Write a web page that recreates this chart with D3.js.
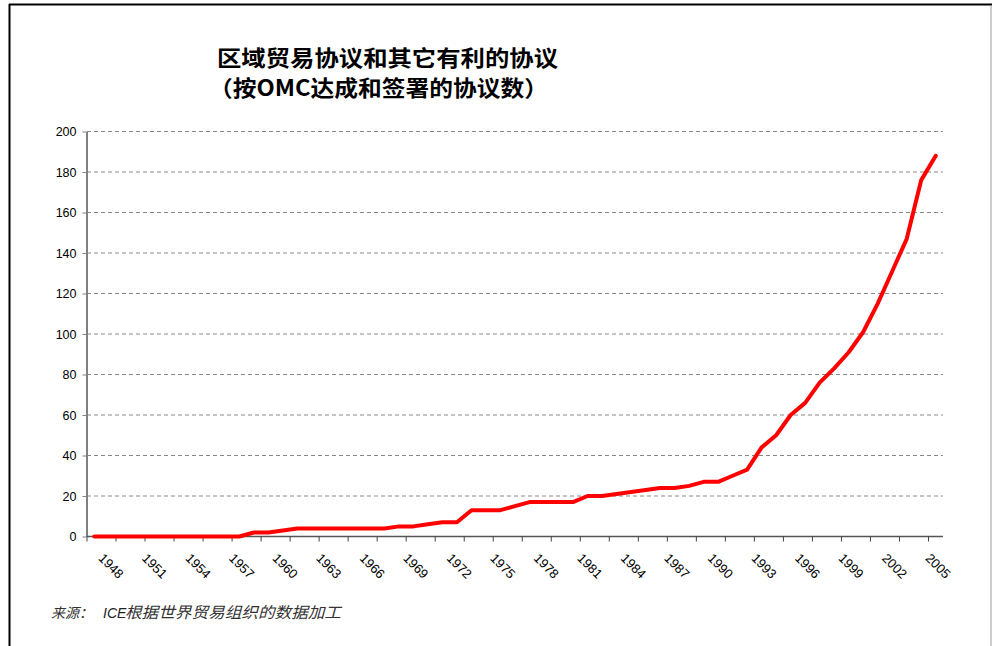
<!DOCTYPE html>
<meta charset="utf-8">
<script src="https://d3js.org/d3.v7.min.js"></script>
<style>
  body { margin: 0; background: #fff; }
  svg { display: block; }
  .ylab { font-family: "Liberation Sans", Arial, sans-serif; font-size: 12.5px; fill: #000; }
  .xlab { font-family: "Liberation Sans", Arial, sans-serif; font-size: 13px; fill: #000; }
  .title { font-family: "Noto Sans CJK SC", sans-serif; font-size: 22px; font-weight: 700; fill: #000; }
  .src { font-family: "Noto Sans CJK SC", sans-serif; font-size: 14px; font-style: italic; fill: #333; }
  .srcl { font-family: "Liberation Sans", Arial, sans-serif; font-size: 14px; font-style: italic; fill: #222; }
</style>
<body></body>
<script>

// years on the category axis
var years = [1947, 1948, 1949, 1950, 1951, 1952, 1953, 1954, 1955, 1956,
             1957, 1958, 1959, 1960, 1961, 1962, 1963, 1964, 1965, 1966,
             1967, 1968, 1969, 1970, 1971, 1972, 1973, 1974, 1975, 1976,
             1977, 1978, 1979, 1980, 1981, 1982, 1983, 1984, 1985, 1986,
             1987, 1988, 1989, 1990, 1991, 1992, 1993, 1994, 1995, 1996,
             1997, 1998, 1999, 2000, 2001, 2002, 2003, 2004, 2005];

// number of agreements
var agreements = [0, 0, 0, 0, 0, 0, 0, 0, 0, 0,
                  0, 2, 2, 3, 4, 4, 4, 4, 4, 4,
                  4, 5, 5, 6, 7, 7, 13, 13, 13, 15,
                  17, 17, 17, 17, 20, 20, 21, 22, 23, 24,
                  24, 25, 27, 27, 30, 33, 44, 50, 60, 66,
                  76, 83, 91, 101, 115, 131, 147, 176, 188];

var xLabels = ["1948", "1951", "1954", "1957", "1960", "1963", "1966", "1969", "1972", "1975",
               "1978", "1981", "1984", "1987", "1990", "1993", "1996", "1999", "2002", "2005"];
var yTicks = [0, 20, 40, 60, 80, 100, 120, 140, 160, 180, 200];

var titleLines = ["区域贸易协议和其它有利的协议", "（按OMC达成和签署的协议数）"];
var sourceLabel = "来源：";
var sourceLatin = "ICE";
var sourceText = "根据世界贸易组织的数据加工";

var width = 992, height = 646;

var svg = d3.select("body").append("svg")
    .attr("width", width)
    .attr("height", height);

// page frame
svg.append("line").attr("x1", 9).attr("y1", 4.5).attr("x2", 992).attr("y2", 4.5)
    .attr("stroke", "#000").attr("stroke-width", 2);
svg.append("line").attr("x1", 9.5).attr("y1", 4).attr("x2", 9.5).attr("y2", height)
    .attr("stroke", "#000").attr("stroke-width", 2);
svg.append("line").attr("x1", 991).attr("y1", 5).attr("x2", 991).attr("y2", height)
    .attr("stroke", "#999").attr("stroke-width", 1);

// titles
svg.append("text").attr("class", "title")
    .attr("x", 217).attr("y", 66)
    .attr("textLength", 341).attr("lengthAdjust", "spacingAndGlyphs")
    .text(titleLines[0]);
svg.append("text").attr("class", "title")
    .attr("x", 209).attr("y", 96)
    .attr("textLength", 339).attr("lengthAdjust", "spacingAndGlyphs")
    .text(titleLines[1]);

var x = d3.scaleBand().domain(years).range([87, 943]).padding(0);
var y = d3.scaleLinear().domain([0, 200]).range([536.5, 131.5]);

// grid
svg.append("g").selectAll("line")
    .data(yTicks.filter(function(d) { return d > 0; }))
    .enter().append("line")
    .attr("x1", 87).attr("x2", 943)
    .attr("y1", function(d) { return y(d); })
    .attr("y2", function(d) { return y(d); })
    .attr("stroke", "#888").attr("stroke-width", 1)
    .attr("stroke-dasharray", "4,3");

// y axis
var yAxis = svg.append("g")
    .attr("transform", "translate(86.5,0)")
    .call(d3.axisLeft(y).tickValues(yTicks).tickSize(4).tickSizeOuter(0).tickPadding(6));
yAxis.select(".domain").attr("stroke", "#808080").attr("stroke-width", 2);
yAxis.selectAll(".tick line").attr("stroke", "#808080");
yAxis.selectAll(".tick text").attr("class", "ylab");
yAxis.attr("font-family", null).attr("font-size", null);

// x axis
svg.append("line")
    .attr("x1", 87).attr("x2", 943)
    .attr("y1", y(0)).attr("y2", y(0))
    .attr("stroke", "#555").attr("stroke-width", 1.5);

svg.append("g").selectAll("line")
    .data(years.filter(function(d, i) { return i % 2 === 0; }))
    .enter().append("line")
    .attr("x1", function(d) { return x(d); })
    .attr("x2", function(d) { return x(d); })
    .attr("y1", y(0)).attr("y2", y(0) + 5)
    .attr("stroke", "#444").attr("stroke-width", 1);

svg.append("g").selectAll("text")
    .data(xLabels)
    .enter().append("text")
    .attr("class", "xlab")
    .attr("transform", function(d) {
      var cx = x(+d) + x.bandwidth() / 2;
      return "translate(" + (cx - 11) + ",559) rotate(45)";
    })
    .text(function(d) { return d; });

// line
var data = years.map(function(yr, i) { return { year: yr, value: agreements[i] }; });

var line = d3.line()
    .x(function(d) { return x(d.year) + x.bandwidth() / 2; })
    .y(function(d) { return y(d.value); });

svg.append("path")
    .datum(data)
    .attr("d", line)
    .attr("fill", "none")
    .attr("stroke", "#ff0000")
    .attr("stroke-width", 4)
    .attr("stroke-linejoin", "round")
    .attr("stroke-linecap", "round");

// source note
svg.append("text").attr("class", "src")
    .attr("x", 51).attr("y", 618)
    .text(sourceLabel);
svg.append("text").attr("class", "srcl")
    .attr("x", 103).attr("y", 618)
    .text(sourceLatin);
svg.append("text").attr("class", "src")
    .attr("x", 125).attr("y", 618)
    .attr("textLength", 216).attr("lengthAdjust", "spacingAndGlyphs")
    .style("font-size", "15.5px")
    .text(sourceText);

</script>
</html>
